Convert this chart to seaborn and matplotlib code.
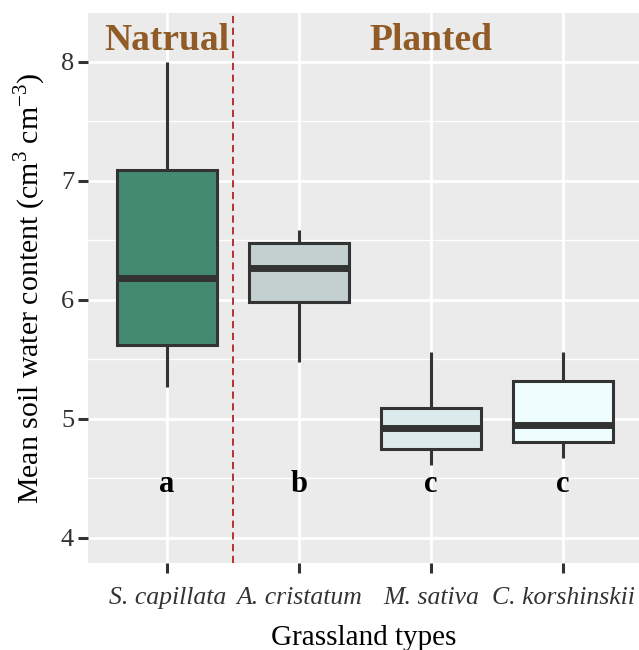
import numpy as np
import pandas as pd
import matplotlib
matplotlib.use("Agg")
import matplotlib.pyplot as plt
import seaborn as sns

# ---- data ----
categories = ["S. capillata", "A. cristatum", "M. sativa", "C. korshinskii"]
whisker_low = [5.27, 5.48, 4.61, 4.67]
q1 = [5.62, 5.98, 4.75, 4.81]
median = [6.18, 6.27, 4.92, 4.95]
q3 = [7.09, 6.48, 5.09, 5.32]
whisker_high = [8.00, 6.59, 5.56, 5.56]
letters = ["a", "b", "c", "c"]
group_labels = ["Natrual", "Planted"]
box_colors = ["#448a71", "#c3d0cf", "#dbebeb", "#eefdfd"]

rows = []
for i, c in enumerate(categories):
    for v in (whisker_low[i], q1[i], median[i], q3[i], whisker_high[i]):
        rows.append({"type": c, "swc": v})
df = pd.DataFrame(rows)

sns.set_theme(style="darkgrid")
plt.rcParams["font.family"] = ["Liberation Serif", "DejaVu Serif"]
plt.rcParams["mathtext.fontset"] = "custom"
plt.rcParams["mathtext.rm"] = "Liberation Serif"

fig = plt.figure(figsize=(6.39, 6.5), dpi=100)
ax = fig.add_axes([88 / 639, 1 - 563 / 650, 1 - 88 / 639, (563 - 13) / 650])
ax.set_facecolor("#ebebeb")

sns.boxplot(data=df, x="type", y="swc", hue="type", order=categories,
            hue_order=categories, palette=box_colors, legend=False,
            saturation=1, width=0.76, whis=(0, 100), linewidth=2.2,
            linecolor="#333333", showcaps=False,
            medianprops=dict(linewidth=5, color="#333333"),
            ax=ax, zorder=3)

ax.set_xlim(-0.6, 3.576)
ax.set_ylim(3.79, 8.41)
ax.set_yticks([4, 5, 6, 7, 8])
ax.set_yticks([4.5, 5.5, 6.5, 7.5], minor=True)
ax.grid(which="major", color="white", linewidth=2.0)
ax.grid(which="minor", axis="y", color="white", linewidth=1.0)
ax.set_axisbelow(True)
for s in ax.spines.values():
    s.set_visible(False)

ax.axvline(0.5, color="#b22222", linestyle=(0, (4, 2.5)), linewidth=1.3, zorder=4)

for i, l in enumerate(letters):
    ax.text(i, 4.45, l, ha="center", va="center", fontsize=22,
            fontweight="bold", color="black", zorder=5)

ax.text(0, 8.18, group_labels[0], ha="center", va="center", fontsize=27,
        fontweight="bold", color="#905b26", zorder=5)
ax.text(2, 8.18, group_labels[1], ha="center", va="center", fontsize=27,
        fontweight="bold", color="#905b26", zorder=5)

ax.tick_params(axis="both", which="major", length=7, width=2.2,
               color="#333333", labelcolor="#333333",
               bottom=True, left=True)
ax.tick_params(axis="y", which="major", labelsize=19, pad=3)
ax.tick_params(axis="x", which="major", labelsize=18.5, pad=10)
ax.tick_params(axis="y", which="minor", length=0)
for lab in ax.get_xticklabels():
    lab.set_fontstyle("italic")
ax.set_xlabel("Grassland types", fontsize=21, color="black", labelpad=12)
ax.set_ylabel("Mean soil water content (cm$^{3}$ cm$^{-3}$)", fontsize=21.5,
              color="black", labelpad=9)

fig.savefig("out.png", dpi=100)
